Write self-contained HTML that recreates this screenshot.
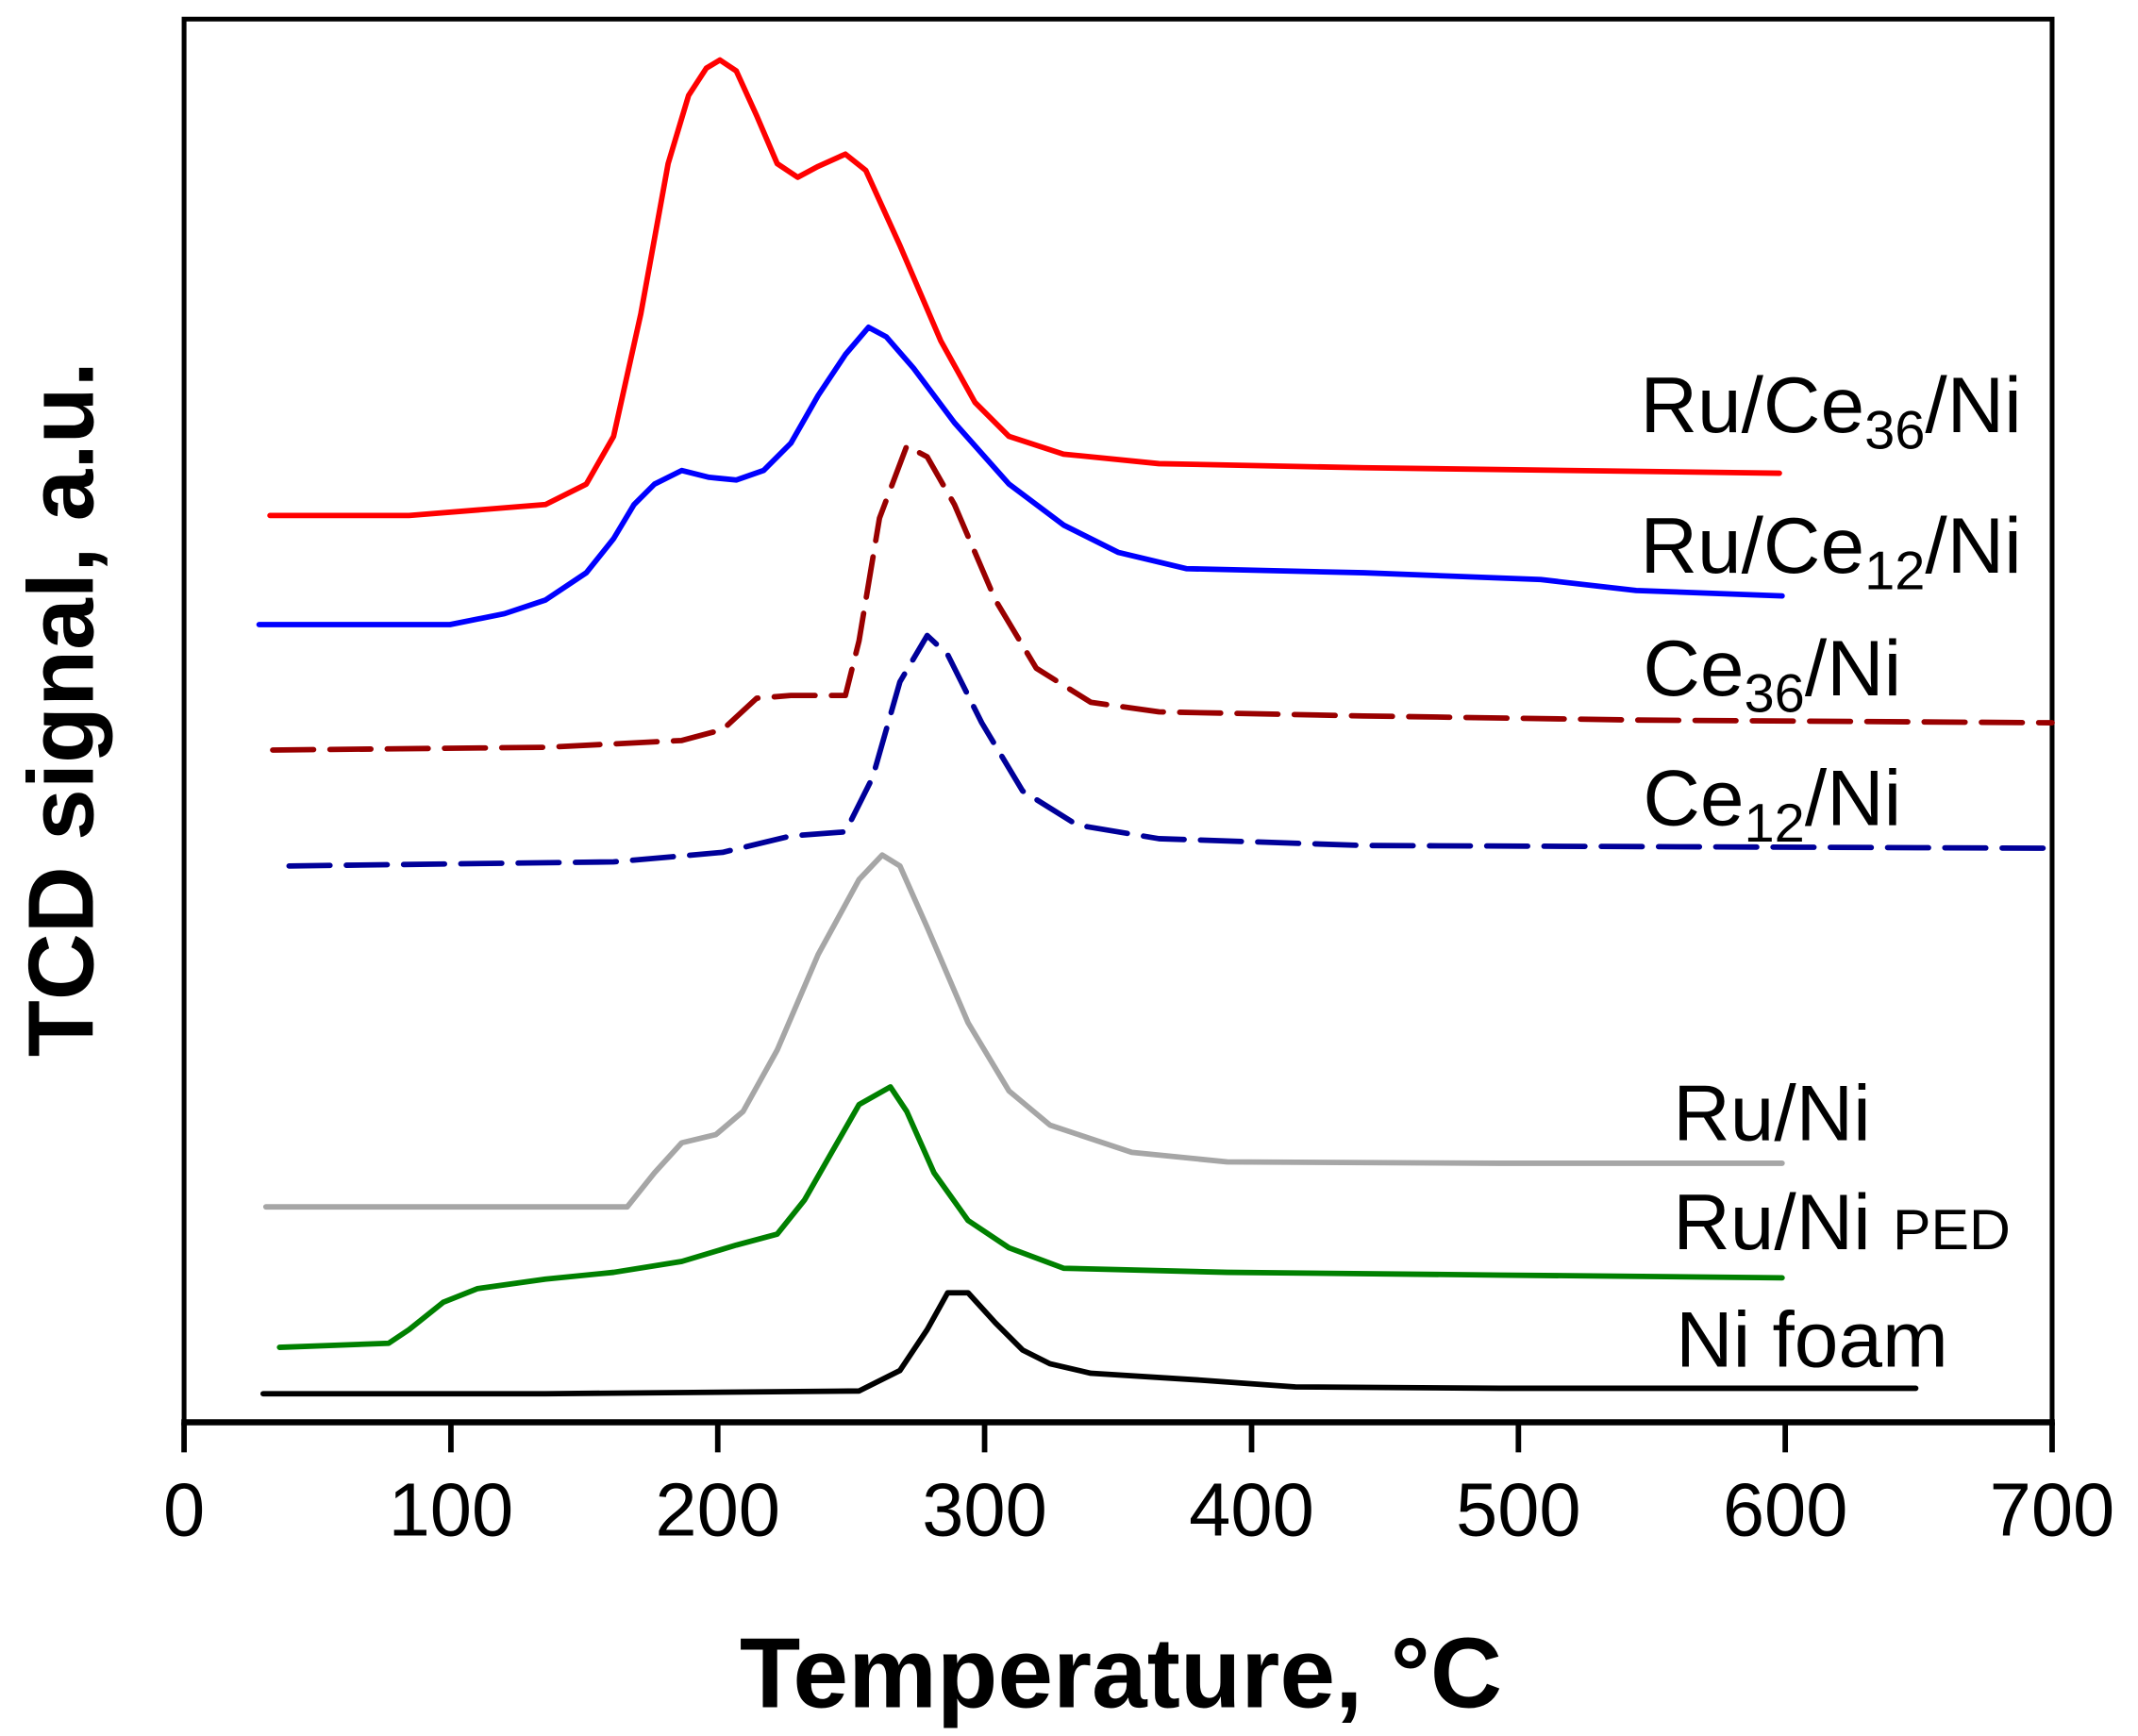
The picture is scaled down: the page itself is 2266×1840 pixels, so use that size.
<!DOCTYPE html>
<html><head><meta charset="utf-8"><style>
html,body{margin:0;padding:0;background:#fff;}
svg{display:block;}
</style></head><body>
<svg width="2266" height="1840" viewBox="0 0 1568 1273" preserveAspectRatio="none" xmlns="http://www.w3.org/2000/svg" font-family="Liberation Sans, Arial, sans-serif">
<rect x="0" y="0" width="1568" height="1273" fill="#fff"/>
<polyline points="135,1043 135,14 1505,14 1505,1043" fill="none" stroke="#000" stroke-width="3.5"/>
<line x1="133" y1="1043" x2="1507" y2="1043" stroke="#000" stroke-width="4.5"/>
<g stroke="#000" stroke-width="4">
<line x1="135" y1="1043" x2="135" y2="1065"/><line x1="330.7" y1="1043" x2="330.7" y2="1065"/><line x1="526.4" y1="1043" x2="526.4" y2="1065"/><line x1="722.1" y1="1043" x2="722.1" y2="1065"/><line x1="917.9" y1="1043" x2="917.9" y2="1065"/><line x1="1113.6" y1="1043" x2="1113.6" y2="1065"/><line x1="1309.3" y1="1043" x2="1309.3" y2="1065"/><line x1="1505" y1="1043" x2="1505" y2="1065"/>
</g>
<g font-size="55" text-anchor="middle" fill="#000">
<text x="135" y="1126">0</text><text x="330.7" y="1126">100</text><text x="526.4" y="1126">200</text><text x="722.1" y="1126">300</text><text x="917.9" y="1126">400</text><text x="1113.6" y="1126">500</text><text x="1309.3" y="1126">600</text><text x="1505" y="1126">700</text>
</g>
<text x="822" y="1252" font-size="73" font-weight="bold" text-anchor="middle">Temperature, °C</text>
<text transform="translate(68,520) rotate(-90)" font-size="68" font-weight="bold" text-anchor="middle">TCD signal, a.u.</text>

<g fill="none" stroke-width="4" stroke-linejoin="round" stroke-linecap="round">
<polyline stroke="#ff0000" points="198,378 300,378 400,370 430,355 450,320 470,230 490,120 505,70 518,50 528,44 540,52 555,85 570,120 585,130 600,122 620,113 635,125 660,180 690,250 715,295 740,320 780,333 850,340 1000,343 1305,347"/>
<polyline stroke="#0000ff" points="190,458 330,458 370,450 400,440 430,420 450,395 465,370 480,355 500,345 520,350 540,352 560,345 580,325 600,290 620,260 637,240 650,247 670,270 700,310 740,355 780,385 820,405 870,417 1000,420 1130,425 1200,433 1307,437"/>
<polyline stroke="#990000" stroke-dasharray="30,12" points="200,550 400,548 500,543 530,535 555,512 580,510 620,510 630,470 645,380 665,327 680,335 700,370 730,440 760,490 800,515 850,522 1000,525 1200,528 1505,530"/>
<polyline stroke="#000099" stroke-dasharray="30,12" points="212,635 450,632 530,625 580,613 620,610 640,570 660,500 680,466 695,480 720,530 750,580 790,605 850,615 1000,620 1505,622"/>
<polyline stroke="#a6a6a6" points="195,885 460,885 480,860 500,838 525,832 545,815 570,770 600,700 630,645 647,627 660,635 680,680 710,750 740,800 770,825 830,845 900,852 1100,853 1307,853"/>
<polyline stroke="#008000" points="205,988 285,985 300,975 325,955 350,945 400,938 450,933 500,925 540,913 570,905 590,880 610,845 630,810 653,797 665,815 685,860 710,895 740,915 780,930 900,933 1100,935 1307,937"/>
<polyline stroke="#000000" points="193,1022 400,1022 630,1020 660,1005 680,975 695,948 710,948 730,970 750,990 770,1000 800,1007 880,1012 950,1017 1100,1018 1405,1018"/>
</g>

<g font-size="58" fill="#000">
<text x="1203" y="317">Ru/Ce<tspan font-size="40" dy="12">36</tspan><tspan dy="-12">/Ni</tspan></text>
<text x="1203" y="420">Ru/Ce<tspan font-size="40" dy="12">12</tspan><tspan dy="-12">/Ni</tspan></text>
<text x="1205" y="510">Ce<tspan font-size="40" dy="12">36</tspan><tspan dy="-12">/Ni</tspan></text>
<text x="1205" y="605">Ce<tspan font-size="40" dy="12">12</tspan><tspan dy="-12">/Ni</tspan></text>
<text x="1227" y="836">Ru/Ni</text>
<text x="1227" y="916">Ru/Ni <tspan font-size="42">PED</tspan></text>
<text x="1229" y="1002">Ni foam</text>
</g>
</svg>
</body></html>
